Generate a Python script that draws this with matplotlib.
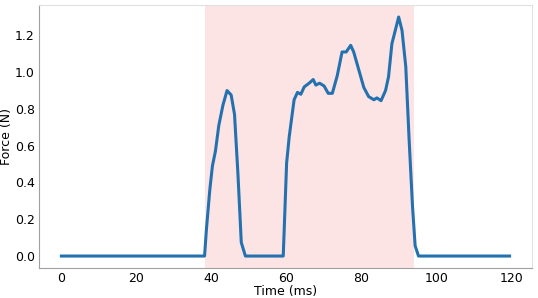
import numpy as np
import matplotlib
matplotlib.use('Agg')
import matplotlib.pyplot as plt

time_ms = [0, 38.2, 38.7, 39.6, 40.3, 41.1, 42.0, 43.1, 44.2, 45.3, 46.2, 47.1,
           48.0, 49.1, 59.2, 60.1, 60.8, 62.1, 63.0, 63.9, 64.8, 66.1, 67.2,
           67.9, 68.9, 70.1, 71.2, 72.3, 73.6, 74.9, 76.0, 77.2, 78.0, 79.4,
           80.7, 82.0, 83.4, 84.2, 85.3, 86.5, 87.3, 88.2, 89.1, 90.0, 90.9,
           91.9, 92.8, 93.7, 94.4, 95.3, 119.6]
force_n = [0, 0, 0.146, 0.36, 0.49, 0.57, 0.71, 0.82, 0.90, 0.876, 0.77, 0.45,
           0.074, 0, 0, 0.506, 0.65, 0.85, 0.89, 0.88, 0.92, 0.94, 0.96,
           0.93, 0.94, 0.925, 0.885, 0.885, 0.98, 1.11, 1.11, 1.146, 1.11, 1.01,
           0.917, 0.867, 0.85, 0.86, 0.845, 0.90, 0.975, 1.155, 1.227, 1.30, 1.227,
           1.03, 0.63, 0.27, 0.056, 0, 0]
span_start, span_end = 38.2, 94.0

# ---------------------------------- plot ------------------------------------ #
fig = plt.figure(figsize=(5.38, 2.98), dpi=100)
ax = fig.add_axes([0.0725, 0.1007, 0.9163, 0.8823])

ax.axvspan(span_start, span_end, color='#fde4e4', lw=0, zorder=0)
ax.plot(time_ms, force_n, color='#2471b0', lw=2.2, zorder=2)

ax.set_xticks([0, 20, 40, 60, 80, 100, 120])
ax.set_yticks([0.0, 0.2, 0.4, 0.6, 0.8, 1.0, 1.2])
ax.tick_params(length=0, labelsize=9, pad=3)
ax.set_xlabel('Time (ms)', fontsize=9, labelpad=0)
ax.set_ylabel('Force (N)', fontsize=9, labelpad=1)

for side in ['left', 'bottom']:
    ax.spines[side].set_color('#a0a0a0')
for side in ['top', 'right']:
    ax.spines[side].set_color('#e0e0e0')
for s in ax.spines.values():
    s.set_linewidth(0.8)

plt.savefig('out.png', dpi=100)
plt.close()
